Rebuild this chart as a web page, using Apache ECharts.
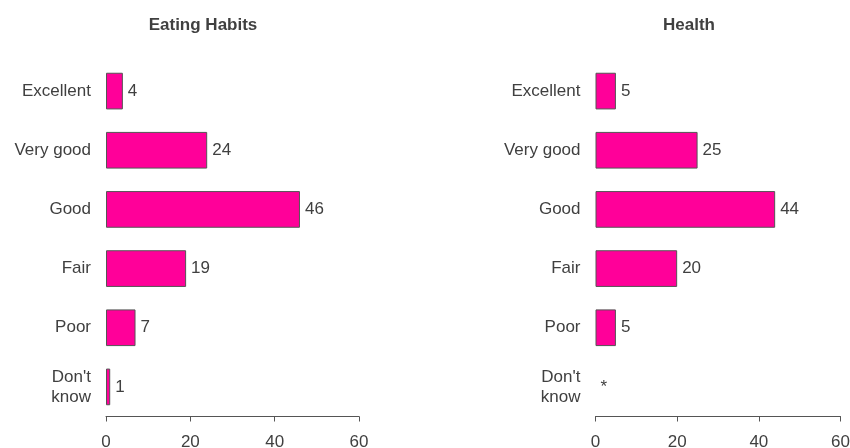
<!DOCTYPE html>
<html>
<head>
<meta charset="utf-8">
<script src="https://cdn.jsdelivr.net/npm/echarts@6/dist/echarts.min.js"></script>
<style>
html,body{margin:0;padding:0;background:#fff;}
#chart{width:850px;height:448px;}
</style>
</head>
<body>
<div id="chart"></div>
<script>
const categories = ['Excellent', 'Very good', 'Good', 'Fair', 'Poor', "Don't\nknow"];
const eatingValues = [4, 24, 46, 19, 7, 1];
const eatingLabels = ['4', '24', '46', '19', '7', '1'];
const healthValues = [5, 25, 44, 20, 5, 0];
const healthLabels = ['5', '25', '44', '20', '5', '*'];
const xTicks = [0, 20, 40, 60];
const titles = ['Eating Habits', 'Health'];

const FONT = '"Liberation Sans", Arial, sans-serif';
const TEXT = '#404040';
const chart = echarts.init(document.getElementById('chart'), null, {renderer: 'canvas'});

function xAxisFor(idx) {
  return {
    gridIndex: idx, type: 'value', min: xTicks[0], max: xTicks[xTicks.length - 1],
    interval: xTicks[1] - xTicks[0],
    splitLine: {show: false},
    axisLine: {show: true, lineStyle: {color: '#555', width: 1}},
    axisTick: {show: true, length: 5, lineStyle: {color: '#555'}},
    axisLabel: {color: TEXT, fontSize: 17, fontFamily: FONT, margin: 17}
  };
}
function yAxisFor(idx) {
  return {
    gridIndex: idx, type: 'category', data: categories, inverse: true,
    axisLine: {show: false}, axisTick: {show: false},
    axisLabel: {color: TEXT, fontSize: 17, fontFamily: FONT, margin: 15, lineHeight: 20, align: 'right'}
  };
}
function seriesFor(idx, values, labels) {
  return {
    type: 'bar', xAxisIndex: idx, yAxisIndex: idx,
    data: values.map(v => v === 0 ? {value: v, itemStyle: {borderWidth: 0, color: 'transparent'}} : v),
    barWidth: '62%',
    itemStyle: {color: '#FF0099', borderColor: '#555', borderWidth: 1},
    label: {
      show: true, position: 'right', distance: 5, color: TEXT, fontSize: 17, fontFamily: FONT,
      formatter: p => labels[p.dataIndex]
    },
    silent: true
  };
}

chart.setOption({
  animation: false,
  grid: [
    {left: 106, right: 491, top: 61.5, bottom: 31.5, containLabel: false, outerBoundsMode: 'none'},
    {left: 595.5, right: 9.5, top: 61.5, bottom: 31.5, containLabel: false, outerBoundsMode: 'none'}
  ],
  xAxis: [xAxisFor(0), xAxisFor(1)],
  yAxis: [yAxisFor(0), yAxisFor(1)],
  series: [seriesFor(0, eatingValues, eatingLabels), seriesFor(1, healthValues, healthLabels)],
  graphic: [
    {type: 'text', x: 203, y: 25, style: {text: titles[0], font: 'bold 17px ' + FONT, fill: TEXT, textAlign: 'center', textVerticalAlign: 'middle'}},
    {type: 'text', x: 689, y: 25, style: {text: titles[1], font: 'bold 17px ' + FONT, fill: TEXT, textAlign: 'center', textVerticalAlign: 'middle'}}
  ]
});
</script>
</body>
</html>
